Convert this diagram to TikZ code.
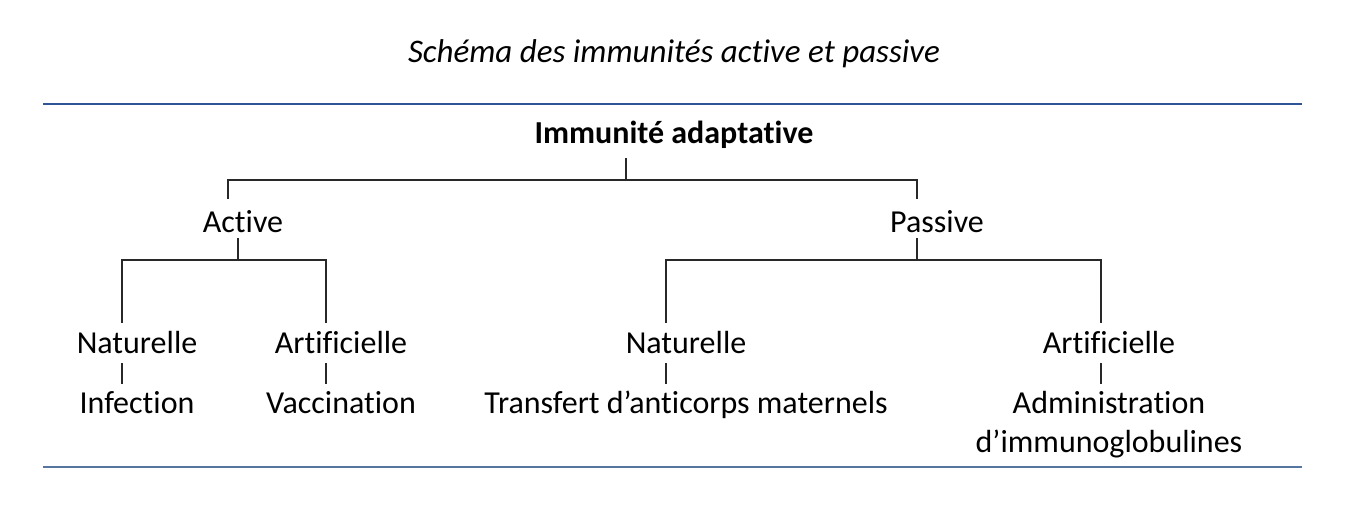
\documentclass[tikz,border=0pt]{standalone}
\usepackage{fontspec}
\setmainfont[Ligatures={NoCommon}]{Carlito}
\definecolor{topblue}{RGB}{47,85,151}
\definecolor{botblue}{RGB}{84,118,160}
\definecolor{linegray}{RGB}{40,40,40}
\begin{document}
\begin{tikzpicture}[x=1pt,y=-1pt,
  lbl/.style={inner sep=0pt, anchor=base, font=\fontsize{32}{39}\selectfont},
  conn/.style={draw=linegray, line width=1.6pt},
  rule/.style={line width=2.2pt}]
\useasboundingbox (0,0) rectangle (1355,525);
% title and rules
\node[lbl, font=\fontsize{33}{39}\selectfont\itshape] (title) at (674,62) {Schéma des immunités active et passive};
\coordinate (tl) at (43,104); \coordinate (tr) at (1302,104);
\coordinate (bl) at (43,467); \coordinate (br) at (1302,467);
\draw[rule, draw=topblue] (tl) -- (tr);
\draw[rule, draw=botblue] (bl) -- (br);
% nodes
\node[lbl, font=\fontsize{32}{39}\selectfont\bfseries] (root) at (674,143) {Immunité adaptative};
\node[lbl] (act) at (243,232) {Active};
\node[lbl] (pas) at (937,232) {Passive};
\node[lbl] (an) at (137,353) {Naturelle};
\node[lbl] (aa) at (341,353) {Artificielle};
\node[lbl] (pn) at (686,353) {Naturelle};
\node[lbl] (pa) at (1109,353) {Artificielle};
\node[lbl] (inf) at (137,413) {Infection};
\node[lbl] (vac) at (341,413) {Vaccination};
\node[lbl] (tra) at (686,413) {Transfert d’anticorps maternels};
\node[lbl] (adm) at (1109,413) {Administration};
\node[lbl] (imm) at (1109,452) {d’immunoglobulines};
% junction coordinates
\coordinate (r0) at (626,158); \coordinate (r1) at (626,180);
\coordinate (ra) at (228,180); \coordinate (rp) at (917,180);
\coordinate (ra2) at (228,199); \coordinate (rp2) at (917,199);
\coordinate (a0) at (238,238); \coordinate (a1) at (238,260);
\coordinate (an0) at (122,260); \coordinate (aa0) at (326,260);
\coordinate (an1) at (122,323); \coordinate (aa1) at (326,323);
\coordinate (p0) at (917,238); \coordinate (p1) at (917,260);
\coordinate (pn0) at (666,260); \coordinate (pa0) at (1101,260);
\coordinate (pn1) at (666,323); \coordinate (pa1) at (1101,323);
\coordinate (an2) at (122,363); \coordinate (an3) at (122,384);
\coordinate (aa2) at (326,363); \coordinate (aa3) at (326,384);
\coordinate (pn2) at (666,363); \coordinate (pn3) at (666,384);
\coordinate (pa2) at (1101,363); \coordinate (pa3) at (1101,384);
% connectors
\draw[conn] (r0) -- (r1);
\draw[conn] (ra2) -- (ra) -- (rp) -- (rp2);
\draw[conn] (a0) -- (a1);
\draw[conn] (an1) -- (an0) -- (aa0) -- (aa1);
\draw[conn] (p0) -- (p1);
\draw[conn] (pn1) -- (pn0) -- (pa0) -- (pa1);
\draw[conn] (an2) -- (an3);
\draw[conn] (aa2) -- (aa3);
\draw[conn] (pn2) -- (pn3);
\draw[conn] (pa2) -- (pa3);
\end{tikzpicture}
\end{document}
